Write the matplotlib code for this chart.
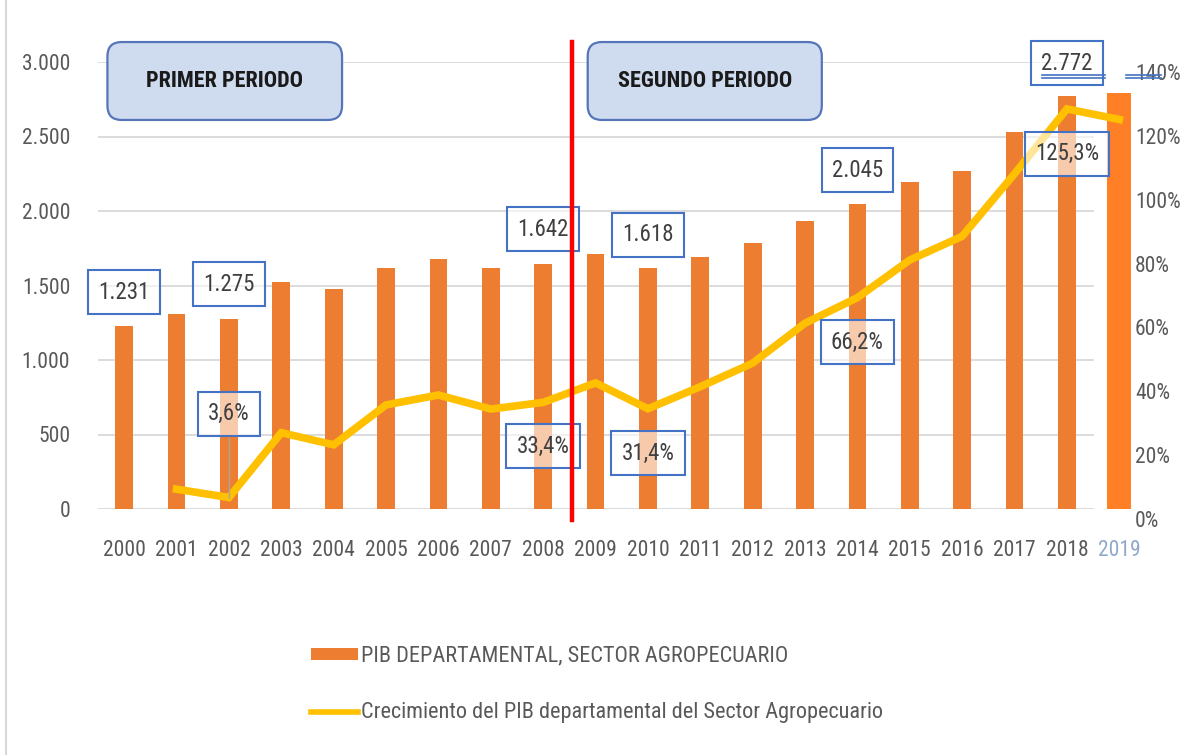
import matplotlib
matplotlib.use("Agg")
import matplotlib.pyplot as plt
from matplotlib import font_manager
from matplotlib.patches import FancyBboxPatch, Patch
from matplotlib.lines import Line2D
import matplotlib.transforms as mtransforms

# pick a narrow font if available
entries = font_manager.fontManager.ttflist
names = {f.name for f in entries}
chosen = None
stretch = 'normal'
for cand in ['Roboto Condensed', 'Liberation Sans Narrow', 'Open Sans Condensed',
             'Noto Sans Condensed', 'Lato Condensed']:
    if cand in names:
        chosen = cand
        break
if chosen is None:
    cond = [f for f in entries if ('Condensed' in f.name or 'Narrow' in f.name)]
    if cond:
        chosen = cond[0].name
if chosen is None:
    chosen = 'Liberation Sans'
plt.rcParams['font.family'] = [chosen, 'DejaVu Sans']
plt.rcParams['font.stretch'] = stretch

# ---------------- data ----------------
years = ['2000', '2001', '2002', '2003', '2004', '2005', '2006', '2007', '2008', '2009',
         '2010', '2011', '2012', '2013', '2014', '2015', '2016', '2017', '2018', '2019']
pib = [1231, 1307, 1275, 1525, 1474, 1620, 1676, 1620, 1642, 1712,
       1618, 1693, 1787, 1935, 2045, 2195, 2268, 2528, 2772, 2790]
growth_years = years[1:]
growth = [6.2, 3.6, 23.9, 20.1, 32.6, 35.7, 31.3, 33.4, 39.5, 31.4,
          38.3, 45.7, 58.2, 66.2, 78.0, 85.4, 105.0, 125.3, 122.0]
left_ticks = [0, 500, 1000, 1500, 2000, 2500, 3000]
left_tick_labels = ['0', '500', '1.000', '1.500', '2.000', '2.500', '3.000']
right_ticks = [0, 20, 40, 60, 80, 100, 120, 140]
right_tick_labels = ['0%', '20%', '40%', '60%', '80%', '100%', '120%', '140%']
bar_labels = {'2000': '1.231', '2002': '1.275', '2008': '1.642', '2010': '1.618',
              '2014': '2.045', '2018': '2.772'}
pct_labels = {'2002': '3,6%', '2008': '33,4%', '2010': '31,4%', '2014': '66,2%',
              '2018': '125,3%'}
legend_bar = 'PIB DEPARTAMENTAL, SECTOR AGROPECUARIO'
legend_line = 'Crecimiento del PIB departamental del Sector Agropecuario'

BAR = '#ED7D31'
BAR19 = '#FF7F27'
LINE = '#FFC000'
GRID = '#D9D9D9'
TXT = '#595959'
BLUE = '#4472C4'
FS = 15.5

W, H = 1182, 755
fig = plt.figure(figsize=(W / 100, H / 100), dpi=100)
ax = fig.add_axes([98 / W, 1 - 509 / H, (1135 - 98) / W, (509 - 62) / H])
ax2 = ax.twinx()
ax.set_zorder(2)
ax2.set_zorder(1)
ax.patch.set_visible(False)

x = list(range(len(years)))
ax.set_xlim(-0.5, 19.3)
ax.set_ylim(0, 3000)
ax2.set_ylim(0, 140)

for t in left_ticks:
    ax.plot([-0.5, 18.5], [t, t], color=GRID, lw=1.3, zorder=0)

ax.bar(x[:-1], pib[:-1], width=0.34, color=BAR, zorder=2)
ax.bar(x[-1], pib[-1], width=0.46, color=BAR19, zorder=2)

gx = [years.index(y) for y in growth_years]
ax.plot(gx, [g * 3000 / 140 for g in growth], color=LINE, lw=5.5,
        solid_joinstyle='miter', zorder=3)

for s in list(ax.spines.values()) + list(ax2.spines.values()):
    s.set_visible(False)

ax.set_yticks(left_ticks)
ax.set_yticklabels(left_tick_labels)
ax.tick_params(axis='y', length=0, pad=20, labelsize=FS, labelcolor=TXT)
ax.set_xticks(x)
ax.set_xticklabels(years)
ax.tick_params(axis='x', length=0, pad=22, labelsize=FS, labelcolor=TXT)
ax.get_xticklabels()[-1].set_color('#8FA8C8')

ax2.set_yticks(right_ticks)
ax2.set_yticklabels(right_tick_labels)
ax2.tick_params(axis='y', length=0, pad=0, labelsize=FS, labelcolor=TXT)
off = mtransforms.ScaledTranslation(0, -10 / 100, fig.dpi_scale_trans)
for lab in ax2.get_yticklabels():
    lab.set_transform(lab.get_transform() + off)


def box_label(xv, yv, s):
    ax.text(xv, yv, s, ha='center', va='center', fontsize=16.5, color='#404040', zorder=6,
            bbox=dict(boxstyle='square,pad=0.45', fc=(1, 1, 1, 0.6), ec=BLUE, lw=1.5))


bar_label_y = {'2000': 1456, '2002': 1510, '2008': 1879, '2010': 1839,
               '2014': 2275, '2018': 2993}
for k, s in bar_labels.items():
    box_label(years.index(k), bar_label_y[k], s)

pct_label_y = {'2002': 638, '2008': 423, '2010': 376, '2014': 1121, '2018': 2383}
for k, s in pct_labels.items():
    box_label(years.index(k), pct_label_y[k], s)

i2002 = years.index('2002')
ax.plot([i2002, i2002], [pct_label_y['2002'] - 160, growth[growth_years.index('2002')] * 3000 / 140],
        color='#A6A6A6', lw=1, zorder=5)

for yy in (2913, 2893):
    ax.plot([17.52, 18.72], [yy, yy], color=BLUE, lw=1.2, clip_on=False, zorder=7)
    ax.plot([19.12, 19.79], [yy, yy], color=BLUE, lw=1.2, clip_on=False, zorder=7)

ax.plot([8.55, 8.55], [-74, 3134], color='#FF0000', lw=3.2, clip_on=False, zorder=8)

fig.canvas.draw()
p0 = ax.transData.transform((0, 0))
p1 = ax.transData.transform((1, 1))
aspect = (p1[0] - p0[0]) / (p1[1] - p0[1])


def period_box(x0, x1, y0, y1, s):
    pb = FancyBboxPatch((x0, y0), x1 - x0, y1 - y0,
                        boxstyle='round,pad=0,rounding_size=0.27',
                        mutation_aspect=aspect, fc='#CFDBEF', ec='#5575B8', lw=1.6,
                        clip_on=False, zorder=4)
    ax.add_patch(pb)
    ax.text((x0 + x1) / 2, (y0 + y1) / 2, s, ha='center', va='center', fontsize=16,
            fontweight='bold', color='#1A1A1A', zorder=5, clip_on=False)


period_box(-0.32, 4.16, 2611, 3134, 'PRIMER PERIODO')
period_box(8.85, 13.32, 2611, 3134, 'SEGUNDO PERIODO')

handles = [Patch(facecolor=BAR, edgecolor='none', label=legend_bar),
           Line2D([0], [0], color=LINE, lw=4, label=legend_line)]
fig.legend(handles=handles, loc='upper left', bbox_to_anchor=(302 / W, 1 - 637 / H),
           frameon=False, fontsize=16, labelcolor=TXT, handlelength=2.1,
           handleheight=0.42, handletextpad=0.15, labelspacing=1.6, borderaxespad=0)

fig.add_artist(Line2D([6 / W, 6 / W], [0, 1], color=GRID, lw=1.5))

fig.savefig('out.png', dpi=100)
